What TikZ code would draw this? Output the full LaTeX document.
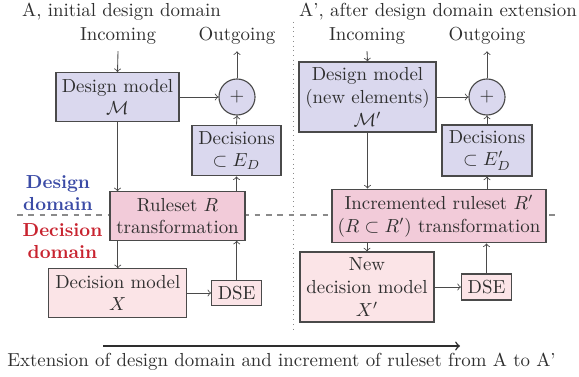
\documentclass[tikz,border=0pt]{standalone}
\definecolor{lav}{HTML}{DAD8EE}
\definecolor{pinkc}{HTML}{F2CBD9}
\definecolor{lpink}{HTML}{FBE4E7}
\definecolor{boxc}{HTML}{4A4A4A}
\definecolor{txt}{HTML}{2E2E2E}
\definecolor{dblue}{HTML}{3B4BA6}
\definecolor{dred}{HTML}{C8232F}
\definecolor{sepc}{HTML}{8A8A8A}
\begin{document}
\begin{tikzpicture}[x=0.53pt,y=-0.53pt,
  box/.style={draw=boxc, line width=0.6pt, align=center, inner sep=1pt, text=txt},
  lavbox/.style={box, fill=lav},
  rulebox/.style={box, fill=pinkc},
  decbox/.style={box, fill=lpink},
  plusnode/.style={draw=boxc, line width=0.6pt, fill=lav, circle, inner sep=0pt, minimum size=19.1pt, text=txt},
  lbl/.style={text=txt},
  conn/.style={->, line width=0.45pt, draw=boxc},
  dombl/.style={align=center, font=\bfseries, text=dblue},
  domrd/.style={align=center, font=\bfseries, text=dred}
]
\useasboundingbox (0,0) rectangle (579,377);

% separators
\coordinate (sepL) at (17,215);
\coordinate (sepR) at (556,215);
\draw[sepc, dashed, line width=0.6pt] (sepL) -- (sepR);
\coordinate (vtop) at (293,22);
\coordinate (vbot) at (293,332);
\draw[sepc, dotted, line width=0.5pt] (vtop) -- (vbot);

% titles
\node[lbl] (tA) at (121.5,12) {A, initial design domain};
\node[lbl] (tB) at (438,12) {A', after design domain extension};

% domain labels
\node[dombl] (desdom) at (58,193) {Design\\domain};
\node[domrd] (decdom) at (62.5,241) {Decision\\domain};

% ---------- left panel ----------
\node[lbl] (in1) at (118,36) {Incoming};
\node[lbl] (out1) at (237,36) {Outgoing};
\node[lavbox, minimum width=65.2pt, minimum height=25.8pt] (dm1) at (117.5,97) {Design model\\$\mathcal{M}$};
\node[plusnode] (pl1) at (237,97) {$+$};
\node[lavbox, minimum width=47.2pt, minimum height=26.9pt] (dc1) at (236.5,150.5) {Decisions\\$\subset E_D$};
\node[rulebox, minimum width=71.6pt, minimum height=25.6pt] (rs1) at (177.5,216) {Ruleset $R$\\transformation};
\node[decbox, minimum width=73pt, minimum height=25.6pt] (xm1) at (117.8,293) {Decision model\\$X$};
\node[decbox, minimum width=26.5pt, minimum height=13.3pt] (dse1) at (236.7,293) {DSE};

\draw[conn] (in1.south) -- (dm1.north);
\draw[conn] (dm1.east) -- (pl1.west);
\draw[conn] (pl1.north) -- (out1.south);
\draw[conn] (dc1.north) -- (pl1.south);
\draw[conn] (dm1.south) -- (dm1.south |- rs1.north);
\draw[conn] (dc1.south |- rs1.north) -- (dc1.south);
\draw[conn] (xm1.north |- rs1.south) -- (xm1.north);
\draw[conn] (xm1.east) -- (dse1.west);
\draw[conn] (dse1.north) -- (dse1.north |- rs1.south);

% ---------- right panel ----------
\node[lbl] (in2) at (367,36) {Incoming};
\node[lbl] (out2) at (487,36) {Outgoing};
\node[lavbox, minimum width=72.6pt, minimum height=37.1pt] (dm2) at (367.5,97) {Design model\\(new elements)\\$\mathcal{M}'$};
\node[plusnode] (pl2) at (487,97) {$+$};
\node[lavbox, minimum width=47.7pt, minimum height=27pt] (dc2) at (487,150.5) {Decisions\\$\subset E'_D$};
\node[rulebox, minimum width=113.4pt, minimum height=28.5pt] (rs2) at (439,216) {Incremented ruleset $R'$\\$(R\subset R')$ transformation};
\node[decbox, minimum width=71pt, minimum height=37.1pt] (xm2) at (367,287) {New\\decision model\\$X'$};
\node[decbox, minimum width=26.5pt, minimum height=13.8pt] (dse2) at (486.5,287) {DSE};

\draw[conn] (in2.south) -- (dm2.north);
\draw[conn] (dm2.east) -- (pl2.west);
\draw[conn] (pl2.north) -- (out2.south);
\draw[conn] (dc2.north) -- (pl2.south);
\draw[conn] (dm2.south) -- (dm2.south |- rs2.north);
\draw[conn] (dc2.south |- rs2.north) -- (dc2.south);
\draw[conn] (xm2.north |- rs2.south) -- (xm2.north);
\draw[conn] (xm2.east) -- (dse2.west);
\draw[conn] (dse2.north) -- (dse2.north |- rs2.south);

% ---------- bottom ----------
\coordinate (bs) at (103,346);
\coordinate (be) at (460,346);
\draw[->, line width=0.8pt, draw=txt] (bs) -- (be);
\node[lbl] (btxt) at (281.5,362) {Extension of design domain and increment of ruleset from A to A'};
\end{tikzpicture}
\end{document}
